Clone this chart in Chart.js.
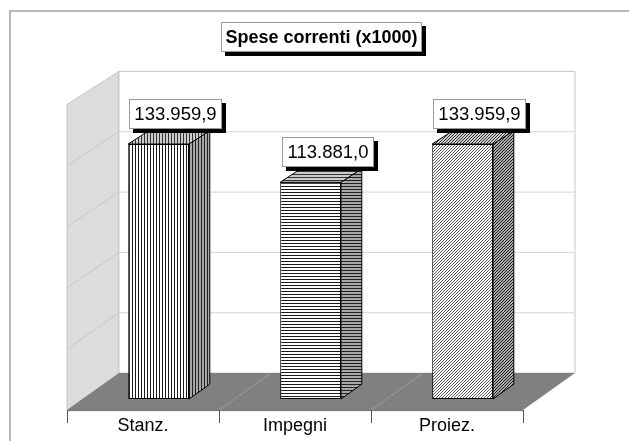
<!DOCTYPE html>
<html>
<head>
<meta charset="utf-8">
<script src="https://cdn.jsdelivr.net/npm/chart.js@4.4.1/dist/chart.umd.min.js"></script>
<style>
  html, body { margin: 0; padding: 0; background: #ffffff; }
  canvas { display: block; }
</style>
</head>
<body>
<canvas id="chart" width="629" height="441"></canvas>
<script>
// ---- data ----
const categories = ['Stanz.', 'Impegni', 'Proiez.'];
const values = [133959.9, 113881.0, 133959.9];
const chartTitle = 'Spese correnti (x1000)';
const axisMax = 160000;
const axisStep = 32000;

// ---- 3D look ----
const DEPTH_DX = 52;          // horizontal run of the full floor depth
const FRONT_D = 0.3;          // depth fraction where the bar front faces sit
const BAR_D = 0.4;            // depth fraction taken by each bar
function depthDy(frac) {      // vertical rise of the full depth (slight perspective)
  return 37 - 4 * frac;
}

// Italian number format: 133.959,9
function formatIt(v) {
  const fixed = v.toFixed(1);
  const [intPart, dec] = fixed.split('.');
  return intPart.replace(/\B(?=(\d{3})+(?!\d))/g, '.') + ',' + dec;
}

function makePattern(kind, bg, ink) {
  const t = document.createElement('canvas');
  t.width = 3; t.height = 3;
  const g = t.getContext('2d');
  g.fillStyle = bg; g.fillRect(0, 0, 3, 3);
  g.fillStyle = ink;
  if (kind === 'v') g.fillRect(0, 0, 1, 3);
  else if (kind === 'h') g.fillRect(0, 0, 3, 1);
  else { g.fillRect(2, 0, 1, 1); g.fillRect(1, 1, 1, 1); g.fillRect(0, 2, 1, 1); }
  return document.createElement('canvas').getContext('2d').createPattern(t, 'repeat');
}
const kinds = ['v', 'h', 'd'];
const inks = ['#1a1a1a', '#1a1a1a', '#5a5a5a'];
const frontFills = kinds.map((k, i) => makePattern(k, '#ffffff', inks[i]));
const sideFills = kinds.map((k, i) => makePattern(k, '#a8a8a8', '#202020'));
const topFills = kinds.map((k, i) => makePattern(k, '#cccccc', '#333333'));

function poly(ctx, pts, fill, stroke, lw) {
  ctx.beginPath();
  ctx.moveTo(pts[0][0], pts[0][1]);
  for (let i = 1; i < pts.length; i++) ctx.lineTo(pts[i][0], pts[i][1]);
  ctx.closePath();
  if (fill) { ctx.fillStyle = fill; ctx.fill(); }
  if (stroke) { ctx.strokeStyle = stroke; ctx.lineWidth = lw || 1; ctx.stroke(); }
}
function line(ctx, a, b, color, lw) {
  ctx.beginPath();
  ctx.moveTo(a[0], a[1]); ctx.lineTo(b[0], b[1]);
  ctx.strokeStyle = color; ctx.lineWidth = lw || 1; ctx.stroke();
}
function shadowBox(ctx, x, y, w, h) {
  ctx.fillStyle = '#000000';
  ctx.fillRect(x + 4, y + 4, w, h);
  ctx.fillStyle = '#ffffff';
  ctx.fillRect(x, y, w, h);
  ctx.strokeStyle = '#9a9a9a';
  ctx.lineWidth = 1;
  ctx.strokeRect(x + 0.5, y + 0.5, w - 1, h - 1);
}

// Walls, floor, gridlines and the hidden faces of each bar
const scene3d = {
  id: 'scene3d',
  beforeDatasetsDraw(chart) {
    const ctx = chart.ctx;
    const ys = chart.scales.y, area = chart.chartArea;
    const L0 = area.left - FRONT_D * DEPTH_DX;
    const R0 = area.right - FRONT_D * DEPTH_DX;
    const P = (x0, v, d) => [x0 + d * DEPTH_DX,
      ys.getPixelForValue(v) + (FRONT_D - d) * depthDy(v / axisMax)];
    ctx.save();
    // left wall
    poly(ctx, [P(L0, 0, 0), P(L0, axisMax, 0), P(L0, axisMax, 1), P(L0, 0, 1)], '#dcdcdc', '#c6c6c6');
    // back wall
    poly(ctx, [P(L0, 0, 1), P(L0, axisMax, 1), P(R0, axisMax, 1), P(R0, 0, 1)], '#ffffff', '#c8c8c8');
    // gridlines
    for (let v = axisStep; v < axisMax; v += axisStep) {
      line(ctx, P(L0, v, 0), P(L0, v, 1), '#c8c8c8');
      line(ctx, P(L0, v, 1), P(R0, v, 1), '#d6d6d6');
    }
    // floor
    poly(ctx, [P(L0, 0, 0), P(R0, 0, 0), P(R0, 0, 1), P(L0, 0, 1)], '#808080');
    const catW = (R0 - L0) / categories.length;
    for (let k = 1; k < categories.length; k++) {
      line(ctx, P(L0 + k * catW, 0, 0), P(L0 + k * catW, 0, 1), '#9c9c9c');
    }
    // category axis line and ticks
    const y0 = P(L0, 0, 0)[1];
    line(ctx, [L0, y0 + 0.5], [R0, y0 + 0.5], '#6a6a6a');
    for (let k = 0; k <= categories.length; k++) {
      const x = Math.round(L0 + k * catW) + 0.5;
      line(ctx, [x, y0], [x, y0 + 13], '#555555');
    }
    // bar sides and tops
    const meta = chart.getDatasetMeta(0);
    meta.data.forEach((bar, i) => {
      const w = bar.width, xl = bar.x - w / 2, xr = bar.x + w / 2;
      const f = values[i] / axisMax;
      const ddx = BAR_D * DEPTH_DX;
      const dyTop = BAR_D * depthDy(f), dyBase = BAR_D * depthDy(0);
      poly(ctx, [[xr, bar.y], [xr, bar.base], [xr + ddx, bar.base - dyBase], [xr + ddx, bar.y - dyTop]],
        sideFills[i], '#000000');
      poly(ctx, [[xl, bar.y], [xr, bar.y], [xr + ddx, bar.y - dyTop], [xl + ddx, bar.y - dyTop]],
        topFills[i], '#000000');
    });
    ctx.restore();
  },
  afterDatasetsDraw(chart) {
    const ctx = chart.ctx;
    const meta = chart.getDatasetMeta(0);
    ctx.save();
    // value labels
    ctx.font = '18.5px "Liberation Sans", Arial, sans-serif';
    ctx.textAlign = 'center';
    ctx.textBaseline = 'middle';
    meta.data.forEach((bar, i) => {
      const txt = formatIt(values[i]);
      const tw = ctx.measureText(txt).width;
      const bw = Math.round(tw + 11), bh = 30;
      const cx = bar.x + 17;
      const bx = Math.round(cx - bw / 2), by = Math.round(bar.y - 45);
      shadowBox(ctx, bx, by, bw, bh);
      ctx.fillStyle = '#000000';
      ctx.fillText(txt, bx + bw / 2, by + bh / 2 + 1);
    });
    // category labels
    ctx.font = '18px "Liberation Sans", Arial, sans-serif';
    ctx.textBaseline = 'alphabetic';
    const xs = chart.scales.x;
    categories.forEach((c, i) => {
      ctx.fillText(c, xs.getPixelForValue(i) - FRONT_D * DEPTH_DX, 431);
    });
    // title
    ctx.font = 'bold 18px "Liberation Sans", Arial, sans-serif';
    ctx.textBaseline = 'middle';
    const tw = ctx.measureText(chartTitle).width;
    const bw = Math.round(tw + 9), bh = 30;
    const tcx = 321.5;
    const bx = Math.round(tcx - bw / 2), by = 22;
    shadowBox(ctx, bx, by, bw, bh);
    ctx.fillStyle = '#000000';
    ctx.fillText(chartTitle, tcx, by + bh / 2 + 1);
    // chart frame
    ctx.fillStyle = '#b8b8b8';
    ctx.fillRect(9, 10, 2, 431);
    ctx.fillRect(9, 10, 620, 2);
    ctx.restore();
  }
};

new Chart(document.getElementById('chart'), {
  type: 'bar',
  data: {
    labels: categories,
    datasets: [{
      data: values,
      backgroundColor: frontFills,
      borderColor: '#000000',
      borderWidth: 1,
      borderSkipped: false,
      categoryPercentage: 1.0,
      barPercentage: 0.4
    }]
  },
  options: {
    responsive: false,
    animation: false,
    devicePixelRatio: 1,
    layout: { padding: { left: 82.6, right: 90.4, top: 94.5, bottom: 42 } },
    scales: {
      x: { display: false, offset: true },
      y: { display: false, min: 0, max: axisMax, ticks: { stepSize: axisStep } }
    },
    plugins: { legend: { display: false }, tooltip: { enabled: false }, title: { display: false } }
  },
  plugins: [scene3d]
});
</script>
</body>
</html>
